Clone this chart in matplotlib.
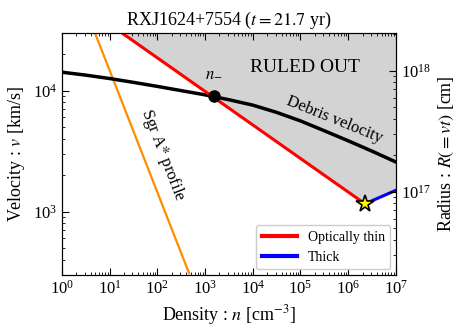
import numpy as np
import matplotlib.pyplot as plt
from matplotlib.ticker import LogLocator, NullFormatter

plt.rcParams['font.family'] = ['Liberation Serif', 'DejaVu Serif']
plt.rcParams['mathtext.fontset'] = 'stix'
plt.rcParams['font.size'] = 12

t_yr = 21.7

# debris velocity curve (half-decade steps)
n_debris = [1e0, 3.16e0, 1e1, 3.16e1, 1e2, 3.16e2, 1e3, 3.16e3,
            1e4, 3.16e4, 1e5, 3.16e5, 1e6, 3.16e6, 1e7]
v_debris = [1.42e4, 1.343e4, 1.259e4, 1.17e4, 1.084e4, 1.0e4, 9.23e3, 8.41e3,
            7.59e3, 6.61e3, 5.62e3, 4.66e3, 3.85e3, 3.16e3, 2.57e3]

# optically thin / thick lines
n_thin = [1.8e1, 2.25e6]
v_thin = [3.0e4, 1.16e3]
n_thick = [2.25e6, 1e7]
v_thick = [1.16e3, 1.5e3]

# Sgr A* profile
n_sgr = [4.9e0, 4.6e2]
v_sgr = [3.0e4, 3.1e2]

n_minus = (1.5e3, 9.0e3)
n_star = (2.25e6, 1.16e3)

fig = plt.figure(figsize=(4.63, 3.36), dpi=100)
ax = fig.add_axes([0.134, 0.182, 0.721, 0.720])
ax.set_xscale('log')
ax.set_yscale('log')
ax.set_xlim(1, 1e7)
ax.set_ylim(3e2, 3e4)

# ruled out region above thin/thick boundary
nb = n_thin + n_thick[1:]
vb = v_thin + v_thick[1:]
ax.fill_between(nb, vb, 1e5, color='#d3d3d3', zorder=0)

ax.plot(n_sgr, v_sgr, color='darkorange', lw=1.6)
ax.plot(n_debris, v_debris, color='k', lw=2.5)
ax.plot(n_thin, v_thin, color='red', lw=2.2, label='Optically thin')
ax.plot(n_thick, v_thick, color='blue', lw=2.2, label='Thick')
ax.plot(*n_minus, 'o', color='k', ms=8, zorder=5)
ax.plot(*n_star, '*', color='yellow', mec='k', mew=1.2, ms=13, zorder=6)

ax.text(n_minus[0], 1.2e4, '$n_{-}$', ha='center', va='bottom', fontsize=12)
ax.text(10**5.09, 10**4.19, 'RULED OUT', ha='center', va='center', fontsize=14)
ax.text(10**5.72, 10**3.76, 'Debris velocity', ha='center', va='center',
        rotation=-22, fontsize=12)
ax.text(10**2.12, 10**3.47, 'Sgr A$*$ profile', ha='center', va='center',
        rotation=-69, fontsize=12)

ax.set_xlabel('Density : $n$ [cm$^{-3}$]', fontsize=13)
ax.set_ylabel('Velocity : $v$ [km/s]', fontsize=13)
ax.set_title('RXJ1624+7554 ($t = 21.7$ yr)', fontsize=13)
ax.set_xticks([10.0**k for k in range(8)])
ax.xaxis.set_minor_locator(LogLocator(base=10, subs=np.arange(2, 10), numticks=100))
ax.xaxis.set_minor_formatter(NullFormatter())
ax.tick_params(which='both', direction='in', top=True)
ax.tick_params(which='major', length=5)
ax.tick_params(which='minor', length=2.5)

leg = ax.legend(loc='lower right', fontsize=10, handlelength=2.5,
                framealpha=1, borderaxespad=0.4)
for l in leg.get_lines():
    l.set_linewidth(3)

# right axis: radius R = v t
conv = 1e5 * t_yr * 3.156e7
ax2 = ax.twinx()
ax2.set_yscale('log')
ax2.set_ylim(3e2 * conv, 3e4 * conv)
ax2.set_ylabel('Radius : $R(=vt)$ [cm]', fontsize=13)
ax2.tick_params(which='both', direction='in')
ax2.tick_params(which='major', length=5)
ax2.tick_params(which='minor', length=2.5)

fig.savefig('out.png', dpi=100)
